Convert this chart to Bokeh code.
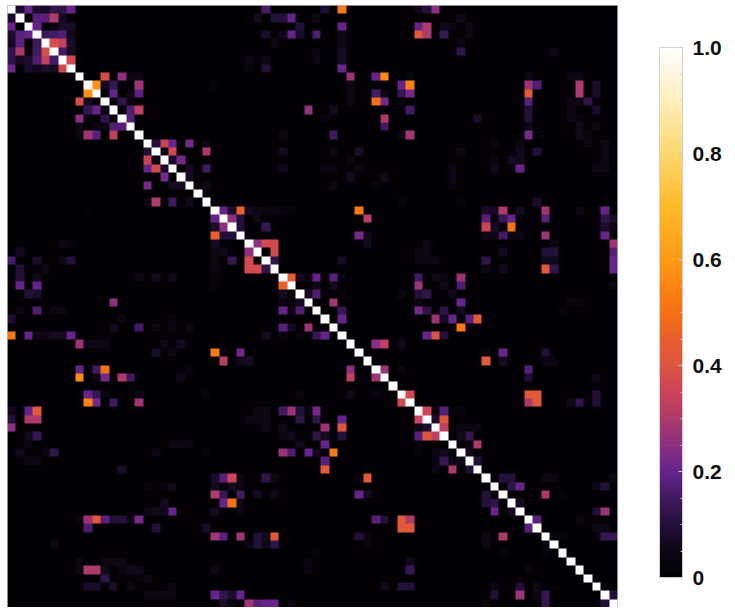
import numpy as np
from bokeh.plotting import figure
from bokeh.models import LinearColorMapper, ColorBar, FixedTicker, Range1d
from bokeh.embed import file_html
from bokeh.resources import INLINE

N = 72

# upper-triangle cells (row, column, value); the matrix is symmetric
r0 = [(0,1,.08),(0,2,.2),(0,3,.08),(0,4,.07),(0,5,.12),(0,6,.12),(0,7,.2),(0,30,.16),(0,37,.09),(0,39,.52),(0,48,.06),(0,49,.1),(0,50,.25)]
r1 = [(1,3,.18),(1,4,.18),(1,5,.3),(1,6,.07),(1,29,.07),(1,31,.1),(1,32,.1),(1,33,.2),(1,36,.05),(1,53,.06),(2,3,.2),(2,5,.04),(2,6,.08),(2,7,.08),(2,34,.1),(2,39,.2),(2,48,.2),(2,49,.3),(2,51,.06),(2,52,.04),(2,54,.05)]
r3 = [(3,4,.14),(3,5,.15),(3,6,.17),(3,7,.06),(3,30,.08),(3,32,.06),(3,33,.2),(3,34,.08),(3,36,.17),(3,39,.05),(3,48,.42),(3,49,.3),(3,51,.13),(3,54,.05),(4,5,.38),(4,6,.33),(4,7,.08),(4,31,.05),(4,39,.05),(4,53,.04)]
r5 = [(5,6,.15),(5,7,.07),(5,36,.04),(5,39,.07),(5,53,.12),(5,64,.05),(6,7,.37),(6,28,.05),(6,30,.05),(6,36,.05),(6,39,.07),(7,28,.03),(7,30,.1),(7,39,.2)]
r8 = [(8,11,.38),(8,13,.25),(8,14,.05),(8,15,.05),(8,40,.27),(8,43,.2),(8,44,.57),(8,47,.03),(8,61,.05),(8,66,.05),(8,67,.05),(9,10,.58),(9,11,.07),(9,12,.13),(9,13,.03),(9,15,.28),(9,24,.03),(9,40,.05),(9,43,.03),(9,46,.2),(9,47,.55),(9,61,.27),(9,62,.17),(9,67,.3),(9,69,.08)]
r10 = [(10,12,.2),(10,14,.05),(10,15,.18),(10,40,.05),(10,43,.15),(10,44,.05),(10,46,.13),(10,47,.22),(10,61,.42),(10,67,.3),(10,69,.08),(11,12,.04),(11,13,.12),(11,14,.04),(11,40,.05),(11,43,.5),(11,44,.22),(11,46,.04),(11,61,.18),(11,66,.05),(11,67,.05),(11,68,.12)]
r12 = [(12,14,.17),(12,15,.33),(12,35,.25),(12,38,.07),(12,47,.15),(12,61,.1),(12,66,.05),(12,69,.08),(13,14,.18),(13,37,.04),(13,44,.3),(13,55,.08),(13,61,.1),(13,66,.05),(13,67,.04),(14,44,.15),(14,61,.05),(14,67,.06),(14,69,.05),(15,32,.05),(15,38,.15),(15,46,.05),(15,47,.28),(15,61,.22),(15,67,.06),(15,68,.03)]
r16 = [(16,17,.1),(16,18,.35),(16,19,.2),(16,21,.22),(16,23,.05),(16,57,.04),(16,60,.05),(16,68,.05),(16,70,.05),(17,18,.05),(17,19,.37),(17,23,.3),(17,32,.07),(17,38,.05),(17,41,.08),(17,53,.05),(17,60,.06),(17,62,.1),(17,70,.05),(18,19,.08),(18,20,.22),(18,40,.05),(18,57,.04),(18,59,.07),(18,60,.06),(18,70,.05)]
r19 = [(19,21,.07),(19,23,.15),(19,32,.06),(19,37,.04),(19,38,.04),(19,41,.05),(19,52,.05),(19,57,.06),(19,60,.2),(19,69,.05),(19,70,.05),(20,21,.07),(20,40,.07),(20,44,.06),(20,52,.05),(21,23,.06),(21,38,.05),(21,43,.03),(21,52,.04),(23,46,.03),(23,53,.03),(23,62,.08)]
r24 = [(24,25,.2),(24,26,.08),(24,27,.45),(24,28,.07),(24,29,.05),(24,30,.04),(24,31,.04),(24,32,.03),(24,33,.03),(24,41,.52),(24,56,.08),(24,57,.07),(24,58,.3),(24,60,.07),(24,63,.28),(24,67,.05),(24,70,.2),(25,26,.25),(25,27,.1),(25,29,.06),(25,42,.32),(25,56,.18),(25,58,.13),(25,59,.2),(25,63,.18),(25,70,.12),(25,71,.08)]
r26 = [(26,27,.1),(26,30,.13),(26,56,.35),(26,57,.07),(26,59,.5),(26,70,.08),(26,71,.04),(27,41,.22),(27,42,.06),(27,56,.05),(27,57,.05),(27,58,.15),(27,59,.05),(27,60,.05),(27,63,.28),(27,70,.2)]
r28 = [(28,29,.25),(28,30,.37),(28,31,.37),(28,42,.07),(28,49,.05),(28,64,.05),(28,71,.28),(29,31,.37),(29,48,.05),(29,49,.05),(29,58,.07),(29,63,.1),(29,64,.1),(29,71,.18),(30,31,.12),(30,39,.07),(30,48,.05),(30,49,.05),(30,50,.05),(30,56,.12),(30,63,.06),(30,64,.06),(30,71,.2),(31,56,.05),(31,58,.06),(31,63,.42),(31,64,.12),(31,71,.2)]
r32 = [(32,33,.45),(32,34,.07),(32,35,.04),(32,36,.2),(32,38,.18),(32,39,.04),(32,48,.15),(32,50,.06),(32,51,.04),(32,53,.27),(33,36,.05),(33,38,.07),(33,48,.27),(33,51,.06),(33,53,.17),(33,71,.05),(34,35,.07),(34,36,.17),(34,39,.03),(34,46,.04),(34,48,.1),(34,49,.12),(34,52,.06),(35,38,.28),(35,48,.04),(35,53,.2),(35,66,.04),(35,67,.04)]
r36 = [(36,39,.13),(36,48,.22),(36,49,.12),(36,51,.12),(36,53,.06),(36,65,.03),(37,39,.2),(37,50,.27),(37,51,.07),(37,52,.2),(37,54,.18),(37,55,.42),(38,53,.52),(39,49,.2),(39,50,.4),(39,51,.1)]
r40 = [(40,43,.25),(40,44,.33),(40,46,.06),(41,56,.03),(41,58,.2),(41,63,.1),(42,56,.42),(42,58,.07),(42,63,.04),(42,64,.04),(43,44,.27),(43,46,.04),(43,61,.18),(44,61,.1),(44,69,.06)]
r46 = [(46,47,.37),(46,61,.42),(46,62,.42),(46,69,.1),(47,61,.3),(47,62,.42),(47,66,.06),(47,67,.13),(47,69,.1),(48,49,.35),(48,50,.05),(48,51,.18),(48,52,.03),(48,53,.03),(49,50,.08),(49,51,.4),(50,51,.33),(50,53,.04),(50,54,.04),(50,55,.04)]
r51 = [(51,53,.06),(51,54,.13),(52,54,.05),(52,55,.3),(53,54,.06),(54,55,.1),(56,58,.1),(56,59,.1),(56,63,.05),(56,64,.05),(56,71,.05),(57,59,.12),(57,60,.2),(57,69,.05),(57,70,.1),(58,63,.3),(58,65,.03),(59,60,.07)]
r60 = [(60,69,.1),(60,70,.27),(61,62,.18),(61,67,.04),(62,69,.05),(62,70,.05),(63,64,.04),(63,65,.03),(63,70,.13),(63,71,.13),(70,71,.1)]

all_cells = r0+r1+r3+r5+r8+r10+r12+r16+r19+r24+r26+r28+r32+r36+r40+r46+r51+r60

# colour scale
stop_values = [0,.05,.1,.15,.2,.25,.3,.35,.4,.45,.5,.55,.6,.7,.8,.9,1]
stop_colors = ["#020005","#0d0714","#24103a","#421a62","#66248a","#8c3080","#ad3a6a","#cc4458","#dc5540","#e8602c","#f47015","#fb8410","#fc9a18","#fdb928","#fdd870","#fdeebb","#ffffff"]
tick_values = [0,.2,.4,.6,.8,1]
tick_labels = ["0","0.2","0.4","0.6","0.8","1.0"]

M = np.eye(N)
for r, c, v in all_cells:
    M[r, c] = v
    M[c, r] = v

rgb = np.array([[int(h[i:i+2], 16) for i in (1, 3, 5)] for h in stop_colors], float)
xs = np.linspace(0, 1, 256)
palette = ["#%02x%02x%02x" % tuple(int(round(np.interp(x, stop_values, rgb[:, k]))) for k in range(3)) for x in xs]
mapper = LinearColorMapper(palette=palette, low=0, high=1)

p = figure(frame_width=610, frame_height=602, width=725, height=602,
           x_range=Range1d(0, N), y_range=Range1d(0, N),
           output_backend="svg", toolbar_location=None,
           min_border_left=0, min_border_right=0, min_border_top=0, min_border_bottom=0,
           margin=(5, 0, 0, 7))
p.image(image=[np.flipud(M)], x=0, y=0, dw=N, dh=N, color_mapper=mapper)
p.axis.visible = False
p.grid.visible = False
p.outline_line_color = "#b8b8b8"
p.background_fill_color = "#000000"
p.border_fill_color = "#ffffff"

cb = ColorBar(color_mapper=mapper, ticker=FixedTicker(ticks=tick_values, minor_ticks=[.05,.1,.15,.25,.3,.35,.45,.5,.55,.65,.7,.75,.85,.9,.95]),
              major_label_overrides=dict(zip(tick_values, tick_labels)),
              width=23, height=530, location=(42, 30), padding=0, margin=0,
              bar_line_color="#d0d0d0", major_tick_line_color="#cccccc", major_tick_in=4, major_tick_out=0,
              minor_tick_line_color="#cccccc", minor_tick_in=2, minor_tick_out=0,
              major_label_text_font="Liberation Sans", major_label_text_font_style="bold",
              major_label_text_font_size="21px", major_label_text_color="#111111",
              label_standoff=10, background_fill_alpha=0, border_line_color=None)
p.add_layout(cb, "right")

open("out.html", "w").write(file_html(p, INLINE))
